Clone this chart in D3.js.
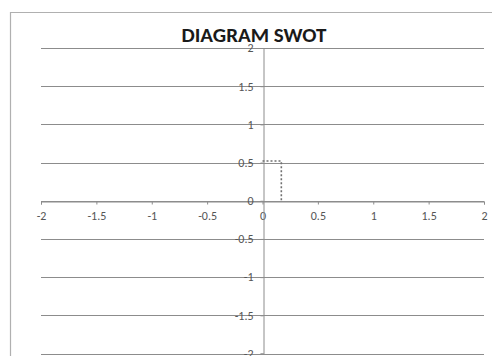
<!DOCTYPE html>
<html><head><meta charset="utf-8">
<script src="https://cdn.jsdelivr.net/npm/d3@7"></script>
<style>html,body{margin:0;padding:0;background:#fff;overflow:hidden}</style>
</head><body>
<svg id="c" width="492" height="356"></svg>
<script>
const title = "DIAGRAM SWOT";
const xTicks = [-2, -1.5, -1, -0.5, 0, 0.5, 1, 1.5, 2];
const yTicks = [-2, -1.5, -1, -0.5, 0, 0.5, 1, 1.5, 2];
const seriesX = [0, 0.17, 0.17];
const seriesY = [0.52, 0.52, 0];

const svg = d3.select("#c");
const x = d3.scaleLinear().domain([-2, 2]).range([41, 484]);
const y = d3.scaleLinear().domain([-2, 2]).range([353.5, 48]);
const fmt = d => String(d);
const font = "Carlito, 'Open Sans', 'Liberation Sans', sans-serif";

// outer chart frame
svg.append("path").attr("d", "M10.5,356 L10.5,12.5 L492,12.5")
  .attr("fill", "none").attr("stroke", "#b0b0b0").attr("stroke-width", 1.2);

// horizontal gridlines
svg.append("g").selectAll("line").data(yTicks).join("line")
  .attr("x1", x(-2)).attr("x2", x(2))
  .attr("y1", d => Math.round(y(d)) + 0.5).attr("y2", d => Math.round(y(d)) + 0.5)
  .attr("stroke", "#8c8c8c").attr("stroke-width", 1);

// x axis at y=0
const xAxis = d3.axisBottom(x).tickValues(xTicks).tickSize(3).tickPadding(7).tickFormat(fmt);
const gx = svg.append("g").attr("transform", `translate(0,${Math.round(y(0)) + 0.5})`).call(xAxis);
gx.select(".domain").attr("stroke", "#8c8c8c");
gx.selectAll(".tick line").attr("stroke", "#8c8c8c");
gx.selectAll(".tick text").attr("fill", "#555").attr("font-size", 12).attr("font-family", font);

// y axis at x=0
const yAxis = d3.axisLeft(y).tickValues(yTicks).tickSize(3).tickPadding(7).tickFormat(fmt);
const gy = svg.append("g").attr("transform", `translate(${Math.round(x(0)) + 0.5},0)`).call(yAxis);
gy.select(".domain").attr("stroke", "#8c8c8c");
gy.selectAll(".tick line").attr("stroke", "#8c8c8c");
gy.selectAll(".tick text").attr("fill", "#555").attr("font-size", 12).attr("font-family", font);

// series
const pts = seriesX.map((v, i) => [v, seriesY[i]]);
svg.append("path").datum(pts)
  .attr("d", d3.line().x(d => x(d[0])).y(d => y(d[1])))
  .attr("fill", "none").attr("stroke", "#707070").attr("stroke-width", 1.6)
  .attr("stroke-dasharray", "2,2");

// title
svg.append("text").attr("x", 254).attr("y", 42).attr("text-anchor", "middle")
  .attr("font-family", font).attr("font-weight", "bold").attr("font-size", 21)
  .attr("fill", "#1a1a1a").text(title);
</script>
</body></html>
